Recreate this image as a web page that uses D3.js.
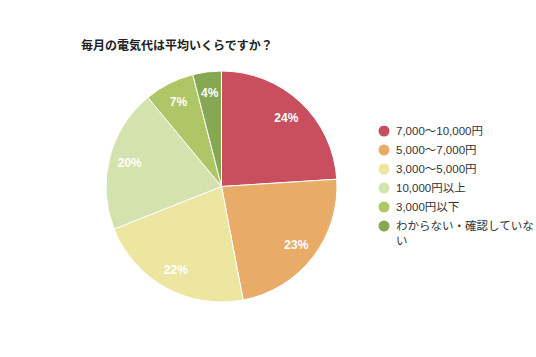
<!DOCTYPE html>
<html><head><meta charset="utf-8">
<script src="https://cdn.jsdelivr.net/npm/d3@7"></script>
<style>body{margin:0;background:#fff;}svg{display:block;font-family:"Liberation Sans",Arial,"Noto Sans CJK JP",sans-serif;}</style>
</head><body>
<svg id="c" width="536" height="357"></svg>
<script>
const categories = ["7,000〜10,000円","5,000〜7,000円","3,000〜5,000円","10,000円以上","3,000円以下","わからない・確認していない"];
const values = [24, 23, 22, 20, 7, 4];
const colors = ["#c94f5e","#e8ab68","#ede6a0","#d4e2ad","#afc666","#87a852"];
const title = "毎月の電気代は平均いくらですか？";

const svg = d3.select("#c");
svg.append("text").attr("x",81).attr("y",50).attr("font-size",12).attr("font-weight","bold")
  .attr("fill","#222").text(title);

const data = categories.map((c,i)=>({c, v:values[i], col:colors[i]}));
const cx = 221.5, cy = 186.5, r = 115.5;
const pie = d3.pie().value(d=>d.v).sort(null);
const arc = d3.arc().innerRadius(0).outerRadius(r);
const labelArc = d3.arc().innerRadius(r*0.82).outerRadius(r*0.82);
const g = svg.append("g").attr("transform",`translate(${cx},${cy})`);
const arcs = pie(data);
g.selectAll("path").data(arcs).join("path").attr("d",arc).attr("fill",d=>d.data.col)
  .attr("stroke","#fff").attr("stroke-width",1);
g.selectAll("text").data(arcs).join("text")
  .attr("transform",d=>`translate(${labelArc.centroid(d)})`)
  .attr("text-anchor","middle").attr("dy","0.35em")
  .attr("font-size",12).attr("font-weight","bold").attr("fill","#fff")
  .text(d=>d.data.v+"%");

const lg = svg.append("g");
const y0 = 131, step = 19;
data.forEach((d,i)=>{
  const y = y0 + i*step;
  lg.append("circle").attr("cx",384).attr("cy",y).attr("r",5.5).attr("fill",d.col);
  const t = lg.append("text").attr("x",396).attr("y",y).attr("dy","0.35em")
    .attr("font-size",11.5).attr("fill","#333");
  if (i === data.length-1) {
    t.append("tspan").attr("x",396).text(d.c.slice(0,12));
    t.append("tspan").attr("x",396).attr("dy",15).text(d.c.slice(12));
  } else t.text(d.c);
});
</script>
</body></html>
